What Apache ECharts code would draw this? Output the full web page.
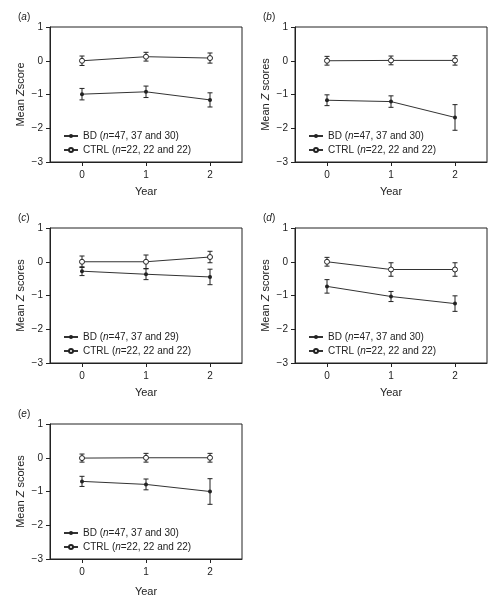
<!DOCTYPE html>
<html><head><meta charset="utf-8">
<script src="https://cdn.jsdelivr.net/npm/echarts@6/dist/echarts.min.js"></script>
<style>html,body{margin:0;padding:0;background:#fff}#c{width:493px;height:601px}</style>
</head><body><div id="c"></div>
<script>
const years = ['0', '1', '2'];
const yTicks = [-3, -2, -1, 0, 1];
const panelLetters = ['a', 'b', 'c', 'd', 'e'];
const yNames = ['Mean Zscore', 'Mean Z scores', 'Mean Z scores', 'Mean Z scores', 'Mean Z scores'];
const bdNames = ['BD (n=47, 37 and 30)', 'BD (n=47, 37 and 30)', 'BD (n=47, 37 and 29)', 'BD (n=47, 37 and 30)', 'BD (n=47, 37 and 30)'];
const ctrlName = 'CTRL (n=22, 22 and 22)';

const bdA = [-0.99, -0.92, -1.16], bdAErr = [0.17, 0.17, 0.21];
const ctrlA = [0.00, 0.12, 0.08], ctrlAErr = [0.14, 0.13, 0.15];
const bdB = [-1.17, -1.21, -1.68], bdBErr = [0.16, 0.17, 0.38];
const ctrlB = [0.00, 0.01, 0.01], ctrlBErr = [0.13, 0.13, 0.14];
const bdC = [-0.28, -0.37, -0.45], bdCErr = [0.13, 0.16, 0.23];
const ctrlC = [0.00, 0.00, 0.14], ctrlCErr = [0.17, 0.20, 0.17];
const bdD = [-0.73, -1.03, -1.24], bdDErr = [0.20, 0.15, 0.23];
const ctrlD = [0.00, -0.23, -0.23], ctrlDErr = [0.13, 0.20, 0.20];
const bdE = [-0.70, -0.79, -1.00], bdEErr = [0.15, 0.16, 0.38];
const ctrlE = [-0.01, 0.00, 0.00], ctrlEErr = [0.12, 0.13, 0.13];

const panels = [
  {bd: bdA, bdErr: bdAErr, ctrl: ctrlA, ctrlErr: ctrlAErr},
  {bd: bdB, bdErr: bdBErr, ctrl: ctrlB, ctrlErr: ctrlBErr},
  {bd: bdC, bdErr: bdCErr, ctrl: ctrlC, ctrlErr: ctrlCErr},
  {bd: bdD, bdErr: bdDErr, ctrl: ctrlD, ctrlErr: ctrlDErr},
  {bd: bdE, bdErr: bdEErr, ctrl: ctrlE, ctrlErr: ctrlEErr}
];

const FONT = 'Liberation Sans, Arial, sans-serif';
const TXT = '#222';
const layout = [
  {left: 50, top: 27, yearGap: 24},
  {left: 295, top: 27, yearGap: 24},
  {left: 50, top: 228, yearGap: 24},
  {left: 295, top: 228, yearGap: 24},
  {left: 50, top: 424, yearGap: 27}
];
const W = 192, H = 135;

const chart = echarts.init(document.getElementById('c'), null, {renderer: 'canvas'});
const grid = [], xAxis = [], yAxis = [], series = [], legend = [], title = [];

function errRender(params, api) {
  const x = api.value(0), m = api.value(1), e = api.value(2);
  const t = api.coord([x, m + e]), b = api.coord([x, m - e]);
  const w = 2.5;
  const st = {stroke: '#222', lineWidth: 1};
  return {type: 'group', children: [
    {type: 'line', shape: {x1: t[0], y1: t[1], x2: b[0], y2: b[1]}, style: st},
    {type: 'line', shape: {x1: t[0] - w, y1: t[1], x2: t[0] + w, y2: t[1]}, style: st},
    {type: 'line', shape: {x1: b[0] - w, y1: b[1], x2: b[0] + w, y2: b[1]}, style: st}
  ]};
}
const richText = {
  n: {fontSize: 10, fontFamily: FONT, color: TXT},
  i: {fontSize: 10, fontFamily: FONT, color: TXT, fontStyle: 'italic'}
};
const richName = {
  n: {fontSize: 11, fontFamily: FONT, color: TXT},
  i: {fontSize: 11, fontFamily: FONT, color: TXT, fontStyle: 'italic'}
};

panels.forEach((p, k) => {
  const L = layout[k];
  grid.push({left: L.left, top: L.top, width: W, height: H, show: true, borderColor: '#222', borderWidth: 1, backgroundColor: 'transparent'});
  xAxis.push({
    type: 'category', gridIndex: k, data: years, boundaryGap: true,
    axisLine: {show: true, onZero: false, lineStyle: {color: '#222', width: 1}},
    axisTick: {show: true, alignWithLabel: true, length: 4, lineStyle: {color: '#222'}},
    axisLabel: {fontSize: 10, fontFamily: FONT, color: TXT, margin: 8},
    name: 'Year', nameLocation: 'middle', nameGap: L.yearGap,
    nameTextStyle: {fontSize: 11, fontFamily: FONT, color: TXT}
  });
  const yn = yNames[k].replace('Z', '{i|Z}').replace('Mean ', '{n|Mean }').replace('score', '{n|score}').replace('{n|score}s', '{n|scores}');
  yAxis.push({
    type: 'value', gridIndex: k, min: yTicks[0], max: yTicks[yTicks.length - 1], interval: 1,
    splitLine: {show: false},
    axisLine: {show: true, onZero: false, lineStyle: {color: '#222', width: 1}},
    axisTick: {show: true, length: 4, lineStyle: {color: '#222'}},
    axisLabel: {fontSize: 10, fontFamily: FONT, color: TXT, margin: 7, formatter: v => String(v).replace('-', '\u2212')},
    name: yn, nameLocation: 'middle', nameRotate: 90, nameGap: 24,
    nameTextStyle: {rich: richName, fontSize: 11, fontFamily: FONT, color: TXT}
  });
  title.push({
    text: '({i|' + panelLetters[k] + '})', left: L.left - 37, top: L.top - 20,
    textStyle: {fontSize: 10, fontWeight: 'normal', fontFamily: FONT, color: TXT, rich: richText}
  });
  series.push({
    type: 'custom', xAxisIndex: k, yAxisIndex: k, renderItem: errRender, z: 1, silent: true,
    data: p.bd.map((v, i) => [i, v, p.bdErr[i]])
  });
  series.push({
    type: 'custom', xAxisIndex: k, yAxisIndex: k, renderItem: errRender, z: 1, silent: true,
    data: p.ctrl.map((v, i) => [i, v, p.ctrlErr[i]])
  });
  series.push({
    name: bdNames[k], type: 'line', xAxisIndex: k, yAxisIndex: k, data: p.bd, z: 3,
    symbol: 'circle', symbolSize: 4, showAllSymbol: true,
    itemStyle: {color: '#222'}, lineStyle: {color: '#333', width: 1}, animation: false
  });
  series.push({
    name: ctrlName, type: 'line', xAxisIndex: k, yAxisIndex: k, data: p.ctrl, z: 3,
    symbol: 'circle', symbolSize: 5, showAllSymbol: true,
    itemStyle: {color: '#fff', borderColor: '#222', borderWidth: 1}, lineStyle: {color: '#333', width: 1}, animation: false
  });
  legend.push({
    data: [bdNames[k], ctrlName], orient: 'vertical', left: L.left + 13, top: L.top + 104,
    itemWidth: 14, itemHeight: 5, itemGap: 4, padding: 0, selectedMode: false,
    formatter: name => name.replace('(n=', '({i|n}=').replace(/^([^{]*)\{/, '{n|$1}{').replace(/\}(=.*)$/, '}{n|$1}'),
    textStyle: {fontSize: 10, fontFamily: FONT, color: TXT, rich: richText}
  });
});

chart.setOption({animation: false, backgroundColor: '#fff', grid, xAxis, yAxis, series, legend, title});
</script></body></html>
